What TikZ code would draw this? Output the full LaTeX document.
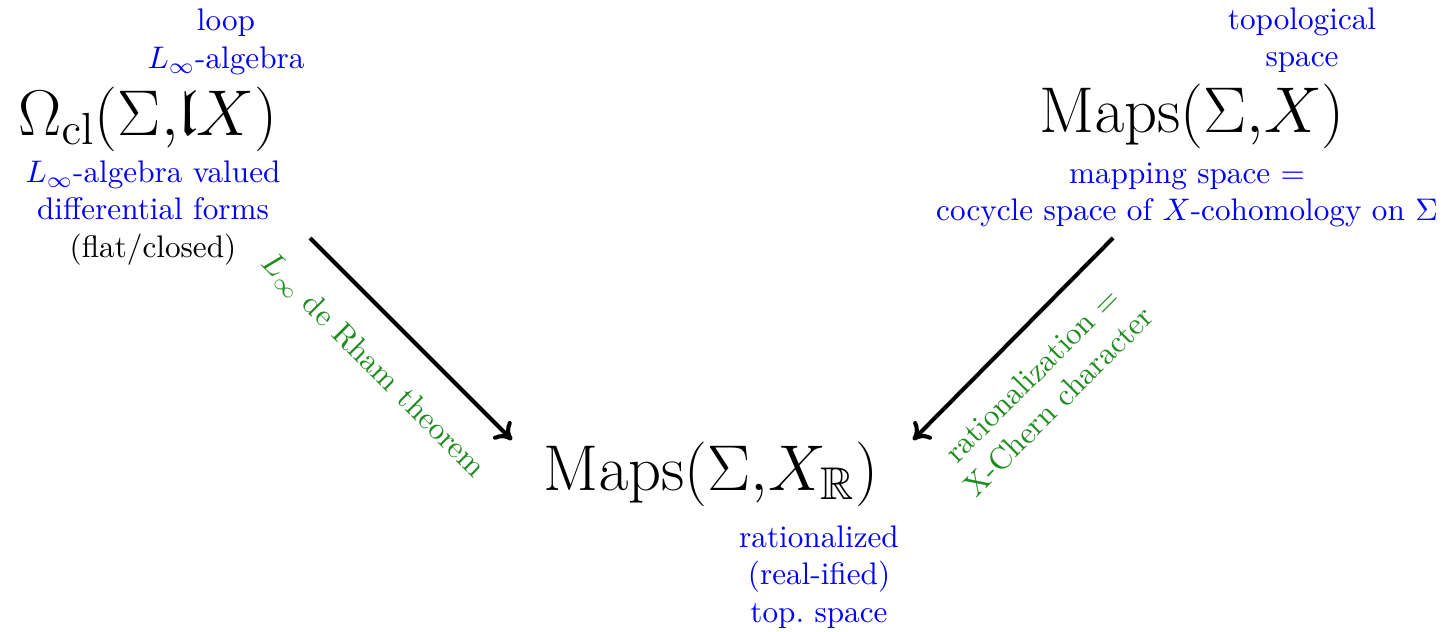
\documentclass[tikz,border=0pt]{standalone}
\usepackage{amssymb}
\usetikzlibrary{arrows.meta}
\definecolor{lgreen}{RGB}{30,140,30}
\begin{document}
\begin{tikzpicture}[x=0.3205pt,y=-0.3205pt,
  big/.style={font=\fontsize{21}{25}\selectfont, inner sep=0pt, anchor=base},
  note/.style={text=blue, align=center, inner sep=0pt},
  arr/.style={line width=1.3pt, -{To[length=5pt,width=8pt]}},
  lab/.style={text=lgreen, align=center, inner sep=0pt}]
\useasboundingbox (0,0) rectangle (1447,631);
% main objects
\node[big] (omega) at (148,135) {$\Omega_{\mathrm{cl}}(\Sigma{,}\mathfrak{l}X)$};
\node[big] (maps) at (1192,132) {$\mathrm{Maps}(\Sigma{,}X)$};
\node[big] (mapsR) at (711,490) {$\mathrm{Maps}(\Sigma{,}X_{\mathbb{R}})$};
% annotations
\node[note] (loop) at (226,42) {loop\\ $L_\infty$-algebra};
\node[note] (forms) at (153,213) {$L_\infty$-algebra valued\\ differential forms\\ \textcolor{black}{(flat/closed)}};
\node[note] (top) at (1302,40) {topological\\ space};
\node[note] (mapsp) at (1187,195) {mapping space $=$\\ cocycle space of $X$-cohomology on $\Sigma$};
\node[note] (rat) at (819,577) {rationalized\\ (real-ified)\\ top.~space};
% arrows
\coordinate (a1) at (310,238);
\coordinate (b1) at (512,440);
\coordinate (a2) at (1113,238);
\coordinate (b2) at (913,440);
\draw[arr] (a1) -- (b1);
\draw[arr] (a2) -- (b2);
\node[lab, rotate=-45] (l1) at (373,366) {$L_\infty$ de Rham theorem};
\node[lab, rotate=45] (l2) at (1045,388) {rationalization $=$\\ X-Chern character};
\end{tikzpicture}
\end{document}
